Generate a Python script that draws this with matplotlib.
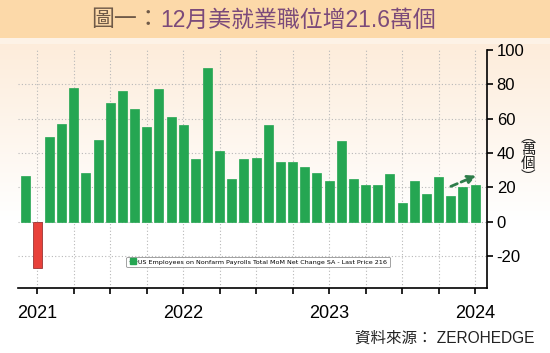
import numpy as np
import matplotlib
matplotlib.use("Agg")
import matplotlib.pyplot as plt
from matplotlib.patches import Rectangle
from matplotlib.lines import Line2D

plt.rcParams['font.family'] = ['Liberation Sans', 'Noto Sans CJK TC', 'DejaVu Sans']

# ---- data (10k jobs, monthly Nov 2020 .. Dec 2023) ----
months = ["2020-11", "2020-12",
          "2021-01", "2021-02", "2021-03", "2021-04", "2021-05", "2021-06",
          "2021-07", "2021-08", "2021-09", "2021-10", "2021-11", "2021-12",
          "2022-01", "2022-02", "2022-03", "2022-04", "2022-05", "2022-06",
          "2022-07", "2022-08", "2022-09", "2022-10", "2022-11", "2022-12",
          "2023-01", "2023-02", "2023-03", "2023-04", "2023-05", "2023-06",
          "2023-07", "2023-08", "2023-09", "2023-10", "2023-11", "2023-12"]
values = [26.4, -26.8,
          49.1, 57.0, 77.7, 28.3, 47.9, 69.0, 76.2, 65.9, 55.2, 77.5, 61.0, 56.4,
          36.3, 89.8, 41.3, 25.2, 36.3, 36.9, 56.4, 34.9, 34.9, 32.2, 28.7, 23.8,
          46.9, 24.8, 21.7, 21.7, 27.9, 10.7, 23.5, 16.3, 26.0, 14.9, 20.0, 21.6]
year_labels = ["2021", "2022", "2023", "2024"]
year_label_months = ["2020-12", "2021-12", "2022-12", "2023-12"]
y_ticks = [-20, 0, 20, 40, 60, 80, 100]

title_prefix = "圖一："
title_main = "12月美就業職位增21.6萬個"
unit_label = "︵\n萬\n個\n︶"
source_text = "資料來源： ZEROHEDGE"
legend_text = "US Employees on Nonfarm Payrolls Total MoM Net Change SA - Last Price 216"

W, H = 550, 353
fig = plt.figure(figsize=(W / 100, H / 100), dpi=100)

# background gradient
bg = fig.add_axes([0, 0, 1, 1], zorder=-10)
bg.set_axis_off()
grad = np.ones((H, 1, 3))
top = np.array([253, 236, 218]) / 255.0
for i in range(H):
    t = min(1.0, max(0.0, (i - 40) / 180.0))
    grad[i, 0, :] = top * (1 - t) + np.array([1, 1, 1]) * t
bg.imshow(grad, aspect='auto', extent=[0, 1, 0, 1], transform=bg.transAxes)
bg.set_xlim(0, 1); bg.set_ylim(0, 1)
# title band
bg.add_patch(Rectangle((0, 1 - 38 / H), 1, 38 / H, transform=bg.transAxes,
                       facecolor='#fcd9a9', edgecolor='none', zorder=2))
bg.add_patch(Rectangle((0, 1 - 44 / H), 1, 6 / H, transform=bg.transAxes,
                       facecolor='#fdf2e6', edgecolor='none', zorder=1))

fig.text(160 / W, 1 - 20 / H, title_prefix, ha='right', va='center',
         fontsize=16.5, color='#6f5a48', family=['Noto Sans CJK TC'])
fig.text(160 / W, 1 - 20 / H, title_main, ha='left', va='center',
         fontsize=16.5, color='#7b4a7a')

ax = fig.add_axes([18 / W, (H - 288) / H, (487 - 18) / W, (288 - 50) / H])
ax.set_facecolor('none')
x = np.arange(len(months))
colors = ['#e8413a' if v < 0 else '#25a652' for v in values]
edges = ['#8a2020' if v < 0 else '#25a652' for v in values]
ax.bar(x, values, width=0.74, color=colors, edgecolor=edges, linewidth=0.5, zorder=3)

ax.set_xlim(-0.58, len(months) - 0.02)
ax.set_ylim(-38.5, 100)

# grid
for yv in [-20, 0, 20, 40, 60, 80]:
    ax.axhline(yv, color='#b8b8b8', linestyle=(0, (1, 2)), linewidth=0.8, zorder=1)
q_pos = np.arange(1, len(months), 3)
for xv in q_pos:
    ax.axvline(xv, color='#b8b8b8', linestyle=(0, (1, 2)), linewidth=0.8, zorder=1)

for s in ['left', 'top']:
    ax.spines[s].set_visible(False)
ax.spines['right'].set_linewidth(1.2)
ax.spines['bottom'].set_linewidth(1.2)
ax.yaxis.tick_right()
ax.set_yticks(y_ticks)
ax.set_yticklabels([str(v) for v in y_ticks], fontsize=12)
ax.tick_params(axis='y', direction='out', length=4, width=1.2, pad=3)
ax.set_xticks(q_pos)
ax.set_xticklabels([])
ax.tick_params(axis='x', direction='out', length=4, width=1.2)

for lab, m in zip(year_labels, year_label_months):
    xi = months.index(m)
    ax.text(xi, -0.07, lab, transform=ax.get_xaxis_transform(), ha='center', va='top',
            fontsize=13)

# trend arrow
ax.annotate('', xy=(37.3, 27.5), xytext=(34.8, 20.0),
            arrowprops=dict(arrowstyle='-|>', color='#2e7d4a', lw=2,
                            linestyle=(0, (2.5, 1.5)), mutation_scale=12), zorder=5)

handle = Line2D([], [], marker='s', color='#b0b0b0', markerfacecolor='#25a652',
                markeredgecolor='#25a652', markersize=5, linewidth=0.8)
leg = ax.legend([handle], [legend_text], loc='center', bbox_to_anchor=(0.512, 0.11),
                frameon=True, fancybox=True, handlelength=1.2,
                handletextpad=0.3, borderpad=0.4, prop={'family': 'DejaVu Sans', 'size': 4.6})
leg.get_frame().set_edgecolor('#777777')
leg.get_frame().set_linewidth(0.6)
leg.get_frame().set_facecolor('white')

fig.text(528 / W, 1 - 157 / H, unit_label, ha='center', va='center', fontsize=10.5,
         linespacing=0.95, color='#222222', family=['Noto Sans CJK TC'])
fig.text(534 / W, 1 - 338 / H, source_text, ha='right', va='center', fontsize=11.2,
         color='#222222')

fig.savefig('out.png', dpi=100)
